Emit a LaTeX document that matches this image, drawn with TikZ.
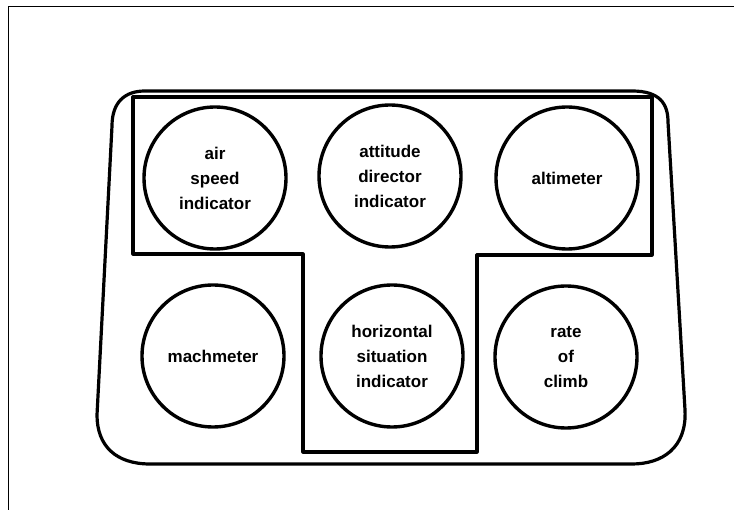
\documentclass[tikz,border=0pt]{standalone}
\usepackage{fontspec}
\setmainfont{Liberation Sans}
\begin{document}
\begin{tikzpicture}[x=1pt,y=-1pt,
  panel/.style={line width=3.2pt, line join=round},
  gauge/.style={circle, draw, line width=3.4pt, minimum size=142pt, inner sep=0pt,
    align=center, font=\fontsize{17}{25}\selectfont\bfseries},
  frame/.style={line width=1pt}]
  \useasboundingbox (0,0) rectangle (734,510);
  % sheet edge
  \draw[frame] (8,510) -- (8,7) -- (734,7);
  % outer instrument panel outline
  \draw[panel] (145,91) -- (632,91)
    .. controls (660,91) and (668,104) .. (668,122)
    -- (685,410)
    .. controls (687,448) and (662,464) .. (632,464)
    -- (150,464)
    .. controls (116,464) and (97,446) .. (97,415)
    -- (112,126)
    .. controls (112,102) and (125,91) .. (145,91) -- cycle;
  % basic T arrangement
  \draw[panel] (133,97) -- (652,97) -- (652,255) -- (477,255) -- (477,452)
    -- (303,452) -- (303,254) -- (133,254) -- cycle;
  % instruments
  \node[gauge] (asi) at (215,178) {air\\speed\\indicator};
  \node[gauge] (adi) at (390,176) {attitude\\director\\indicator};
  \node[gauge] (alt) at (567,178) {altimeter};
  \node[gauge] (mach) at (213,356) {machmeter};
  \node[gauge] (hsi) at (392,356) {horizontal\\situation\\indicator};
  \node[gauge] (roc) at (566,357) {rate\\of\\climb};
\end{tikzpicture}
\end{document}
